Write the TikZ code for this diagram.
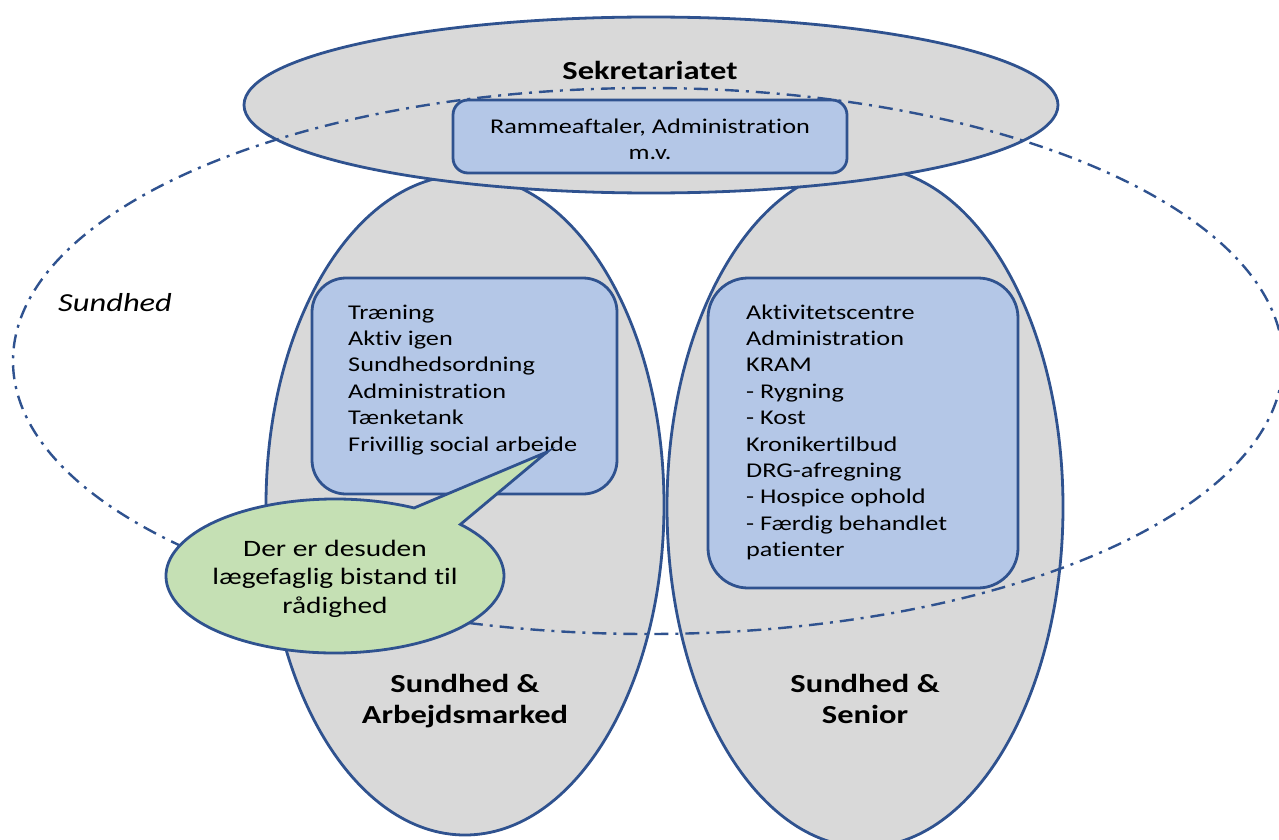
\documentclass[tikz,border=0pt]{standalone}
\usepackage{fontspec}
\setmainfont{Carlito}[FakeStretch=1.25, Ligatures=NoCommon]
\usepackage{xcolor,tikz}
\usetikzlibrary{positioning,shapes.geometric,shapes.callouts}

\begin{document}
\begin{tikzpicture}[x=1pt, y=-1pt]

      \definecolor{grey}{HTML}{D9D9D9}
      \definecolor{darkblue}{HTML}{2F528F}
      \definecolor{blue}{HTML}{B4C7E7}
      \definecolor{green}{HTML}{C5E0B4}

      \tikzstyle{area}  = [ellipse, draw = darkblue, line width = 2.8pt, fill = grey]
      \tikzstyle{block} = [rectangle, rounded corners = 34pt, draw = darkblue, line width = 2.8pt, fill = blue]
      \tikzstyle{group} = [ellipse, draw = darkblue, line width = 2.4pt, dash pattern = on 14pt off 7pt on 3pt off 7pt]
      \tikzstyle{note}  = [ellipse callout, draw = darkblue, line width = 2.8pt, fill = green]

      \newcommand{\bodysize}[0]{\fontsize{21}{26.4}\selectfont}
      \newcommand{\labelsize}[0]{\fontsize{26}{31}\selectfont}

      \newcommand{\blocktext}[1]{\bodysize \begin{tabular}[t]{@{}l@{}}#1\end{tabular}}
      \newcommand{\centertext}[1]{\bodysize \begin{tabular}[t]{@{}c@{}}#1\end{tabular}}
      \newcommand{\areaname}[1]{\labelsize \bfseries \begin{tabular}[t]{@{}c@{}}#1\end{tabular}}
      \newcommand{\notetext}[1]{\fontsize{23.5}{28.5}\selectfont \begin{tabular}[t]{@{}c@{}}#1\end{tabular}}

      \useasboundingbox (0, 0) rectangle (1279, 840);

      \node [area,  minimum width = 398,  minimum height = 660] at (465, 505) (arbejde)     {};
      \node [area,  minimum width = 396,  minimum height = 680] at (865, 507) (senior)      {};
      \node [area,  minimum width = 814,  minimum height = 176] at (651, 105) (sekretariat) {};
      \node [group, minimum width = 1270, minimum height = 546] at (648, 361) (sundhed)     {};

      \node [block, rounded corners = 15pt, minimum width = 394, minimum height = 73] at (650, 136.5) (rammebox)   {};
      \node [block,                         minimum width = 305, minimum height = 216] at (464.5, 386) (arbejdebox) {};
      \node [block, rounded corners = 40pt, minimum width = 310, minimum height = 310] at (863, 433)   (seniorbox)  {};

      \node [anchor = base]                     at (650, 80)  (sekretariatname) {\areaname{Sekretariatet}};
      \node [anchor = base]                     at (650, 133) (rammetext)       {\centertext{Rammeaftaler, Administration\\m.v.}};
      \node [anchor = base west, inner sep = 0] at (58, 311)  (sundhedname)     {\fontsize{26}{30}\selectfont \itshape Sundhed};

      \node [anchor = base west, inner sep = 0] at (348, 319) (arbejdetext) {\blocktext{Træning\\Aktiv igen\\Sundhedsordning\\Administration\\Tænketank\\Frivillig social arbejde}};
      \node [anchor = base west, inner sep = 0] at (746, 319) (seniortext)  {\blocktext{Aktivitetscentre\\Administration\\KRAM\\- Rygning\\- Kost\\Kronikertilbud\\DRG-afregning\\- Hospice ophold\\- Færdig behandlet\\patienter}};

      \node [anchor = base] at (465, 692) (arbejdename) {\areaname{Sundhed \&\\Arbejdsmarked}};
      \node [anchor = base] at (865, 692) (seniorname)  {\areaname{Sundhed \&\\Senior}};

      \node [note, minimum width = 338, minimum height = 154, callout absolute pointer = {(547, 452)}, callout pointer arc = 20] at (335, 576) (laege) {};
      \node [anchor = base] at (335, 556) (laegetext) {\notetext{Der er desuden\\lægefaglig bistand til\\rådighed}};

    \end{tikzpicture}
\end{document}
